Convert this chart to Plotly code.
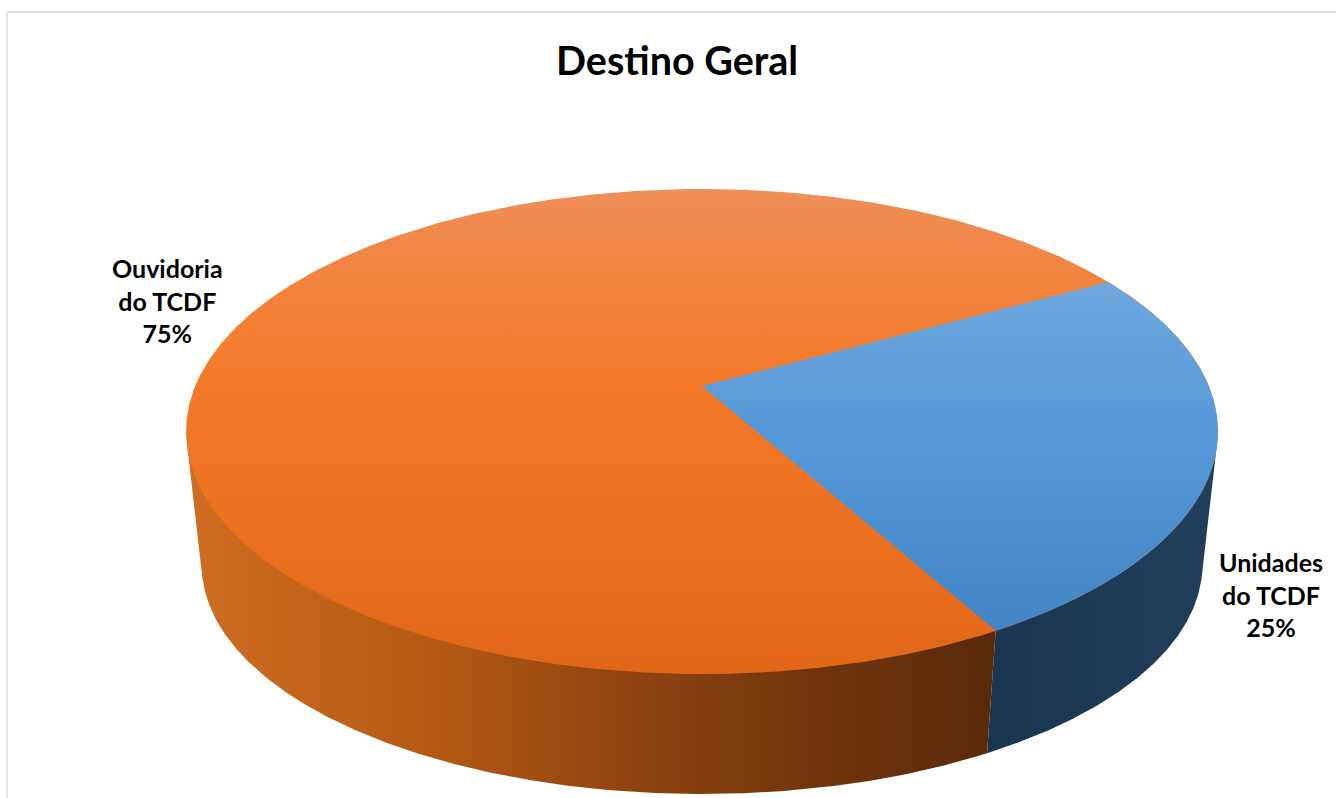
import numpy as np
import plotly.graph_objects as go

# Chart content
title_text = "Destino Geral"
categories = ["Unidades<br>do TCDF", "Ouvidoria<br>do TCDF"]
shares = [25, 75]
first_slice_deg = 61  # clockwise from twelve o'clock

# Face colours for each slice: vertical ramp on top, horizontal ramp on the wall
top_ramps = [
    [[0, "#77abdf"], [0.2, "#6ea6dd"], [0.5, "#5599d8"], [1, "#3f81c2"]],
    [[0, "#ee8f5a"], [0.2, "#f2823c"], [0.4, "#f47a2a"], [1, "#e16617"]],
]
wall_ramps = [
    [[0, "#1a3650"], [1, "#213f5c"]],
    [[0, "#cf6e22"], [0.3, "#b55a14"], [0.55, "#8f4410"], [0.8, "#6e340c"], [1, "#5a2a0a"]],
]
label_pos = [(1271, 594), (167, 300)]

# Projection of the unit disc onto the screen, pixel units
cx = 702.0
top_y = 386.0
bottom_y = 522.0
f_top = 506.8
g_top = 234.0
f_bottom = 491.5
g_bottom = 221.0
k = 0.1876
wall_overlap = 4.0  # walls run this far under the top face to avoid a seam


def rim(deg, f, g, y0):
    a = np.radians(deg)
    X, Y = np.sin(a), np.cos(a)
    w = 1 + k * Y
    return cx + f * X / w, y0 - g * Y / w


def top_rim(deg):
    return rim(deg, f_top, g_top, top_y)


def bottom_rim(deg):
    return rim(deg, f_bottom, g_bottom, bottom_y)


def silhouette(lo, hi):
    """Angle in [lo, hi] on each rim where the wall's outer edge leaves that rim."""
    deg = np.linspace(lo, hi, 1500)
    tx, ty = top_rim(deg)
    bx, by = bottom_rim(deg)
    i = np.argmax(np.abs(tx - cx))
    j = np.argmax(np.abs(bx - cx))
    dx, dy = bx[j] - tx[i], by[j] - ty[i]
    side = np.sign(tx[i] - cx)
    nx, ny = side * dy, -side * dx
    return deg[np.argmax(nx * tx + ny * ty)], deg[np.argmax(nx * bx + ny * by)]


start_a = first_slice_deg
end_a = start_a + shares[0] / sum(shares) * 360
end_b = end_a + shares[1] / sum(shares) * 360

# Wall sections stop at the silhouette so the back stays hidden under the top face
right_t, right_b = silhouette(start_a, end_a)
left_t, left_b = silhouette(end_a + 60, end_a + 180)
wall_arcs = [
    (np.linspace(right_t, end_a, 200), np.linspace(end_a, right_b, 200)),
    (np.linspace(end_a, left_t, 300), np.linspace(left_b, end_a, 300)),
]

fig = go.Figure()

for i, (upper, lower) in enumerate(wall_arcs):
    ux, uy = top_rim(upper)
    lift = wall_overlap * np.clip(-np.cos(np.radians(upper)) * 3, 0, 1)
    lx, ly = bottom_rim(lower)
    fig.add_trace(go.Scatter(
        x=np.concatenate([ux, lx]), y=np.concatenate([uy - lift, ly]),
        mode="lines", line=dict(width=0), fill="toself",
        fillgradient=dict(type="horizontal", colorscale=wall_ramps[i]),
        hoverinfo="skip", showlegend=False,
    ))

# The larger slice is laid down as a full disc; the smaller one sits on it
disc_x, disc_y = top_rim(np.linspace(0, 360, 800))
fig.add_trace(go.Scatter(
    x=disc_x, y=disc_y,
    mode="lines", line=dict(width=0), fill="toself",
    fillgradient=dict(type="vertical", colorscale=top_ramps[1], start=189, stop=674),
    hoverinfo="skip", showlegend=False,
))
ax, ay = top_rim(np.linspace(start_a, end_a, 400))
fig.add_trace(go.Scatter(
    x=np.concatenate([[cx], ax, [cx]]), y=np.concatenate([[top_y], ay, [top_y]]),
    mode="lines", line=dict(width=0), fill="toself",
    fillgradient=dict(type="vertical", colorscale=top_ramps[0], start=189, stop=674),
    hoverinfo="skip", showlegend=False,
))

# Labels: name and share
for name, share, (x, y) in zip(categories, shares, label_pos):
    fig.add_annotation(
        x=x, y=y, xref="x", yref="y", showarrow=False, align="center",
        text=f"<b>{name}<br>{share}%</b>",
        font=dict(family="Lato", size=25, color="#000000"),
    )

fig.add_annotation(
    x=677, y=59, xref="x", yref="y", showarrow=False,
    text=f"<b>{title_text}</b>",
    font=dict(family="Lato", size=39.5, color="#000000"),
)

# Chart-area border along the top and left edges
border = dict(color="#e1e6ec", width=2)
fig.add_shape(type="line", xref="x", yref="y", x0=7, x1=7, y0=12, y1=798, line=border, layer="below")
fig.add_shape(type="line", xref="x", yref="y", x0=7, x1=1336, y0=12, y1=12, line=border, layer="below")

fig.update_layout(
    width=1336, height=798, margin=dict(l=0, r=0, t=0, b=0),
    paper_bgcolor="#ffffff", plot_bgcolor="#ffffff",
    xaxis=dict(range=[0, 1336], visible=False, fixedrange=True),
    yaxis=dict(range=[798, 0], visible=False, fixedrange=True),
)

fig.write_html("out.html", config=dict(displayModeBar=False))
